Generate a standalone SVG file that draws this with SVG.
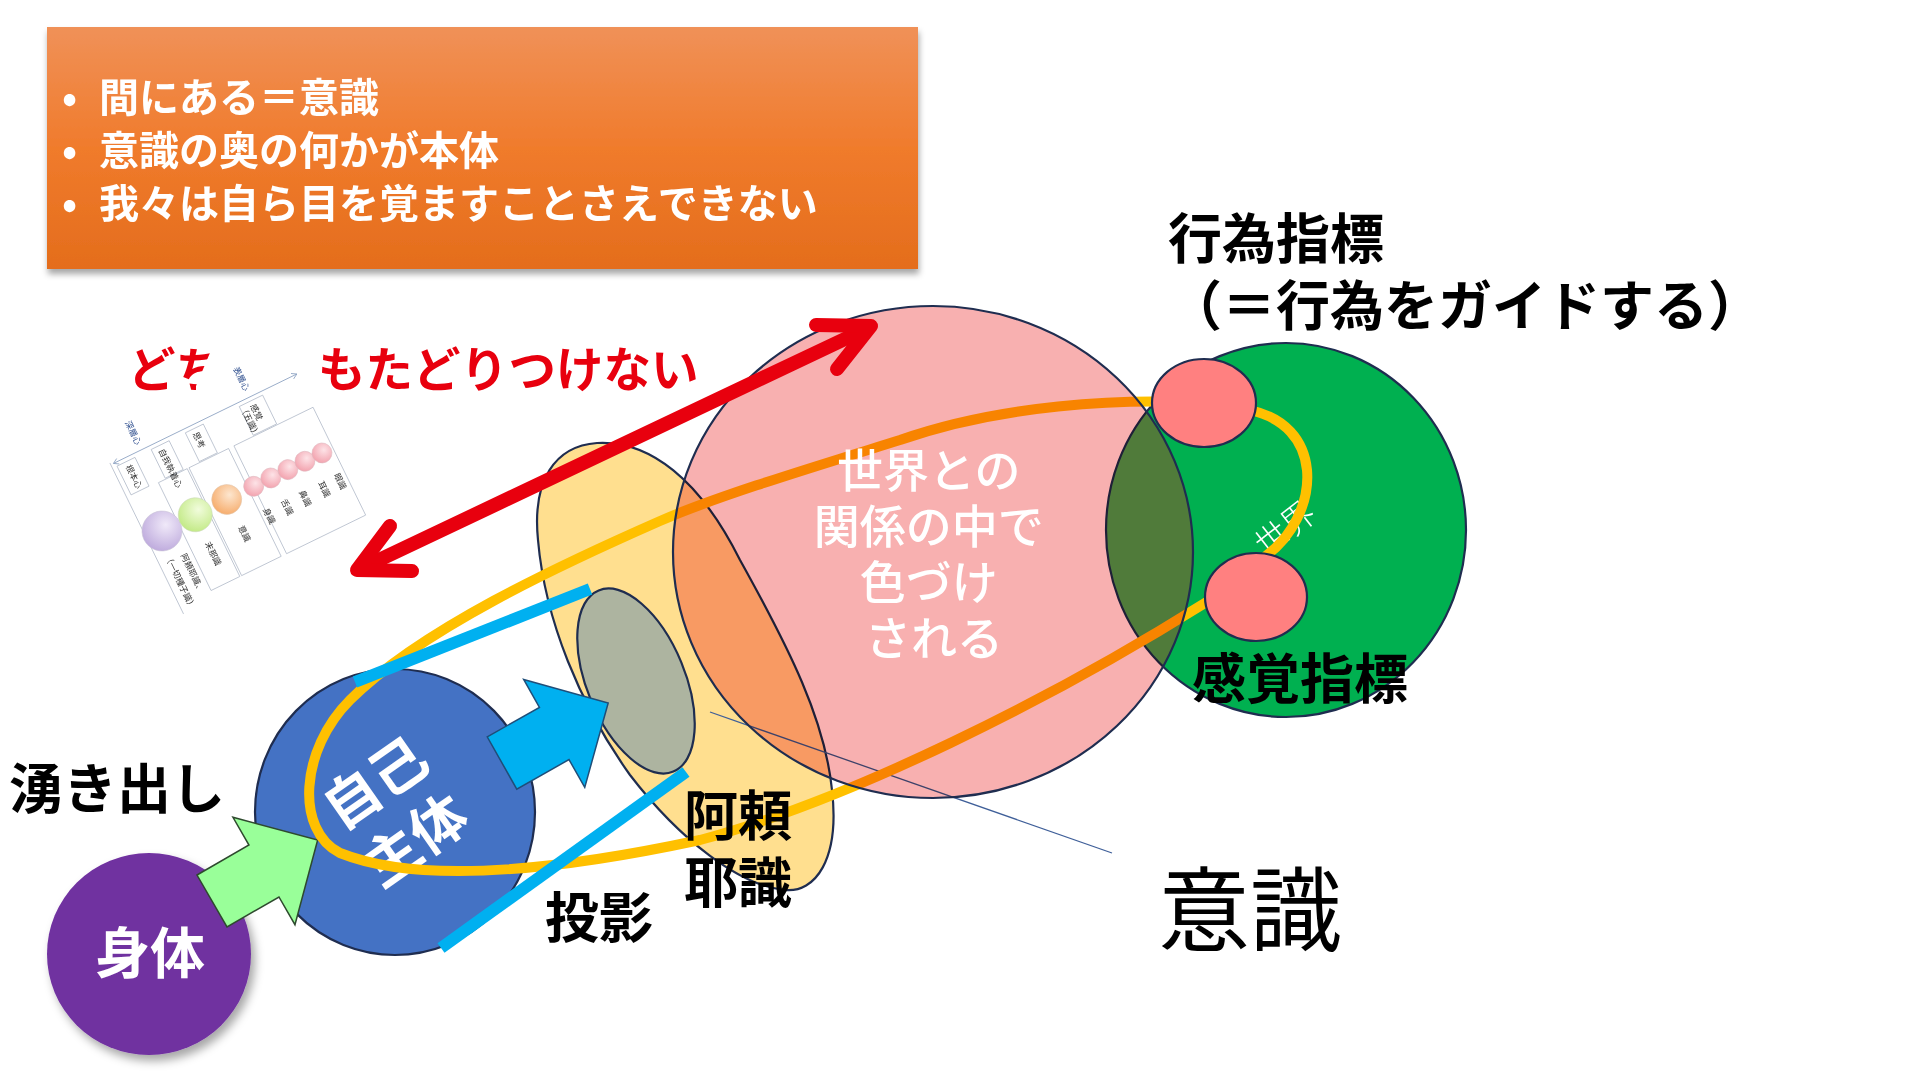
<svg xmlns="http://www.w3.org/2000/svg" width="1920" height="1080" viewBox="0 0 1920 1080">
<defs>
  <linearGradient id="boxGrad" x1="0" y1="0" x2="0" y2="1">
    <stop offset="0" stop-color="#F09158"/>
    <stop offset="0.5" stop-color="#F07B2C"/>
    <stop offset="1" stop-color="#E46D1C"/>
  </linearGradient>
  <radialGradient id="gPink" cx="0.4" cy="0.35" r="0.7">
    <stop offset="0" stop-color="#FDE3E7"/><stop offset="1" stop-color="#F2A0AC"/>
  </radialGradient>
  <radialGradient id="gOrange" cx="0.4" cy="0.35" r="0.7">
    <stop offset="0" stop-color="#FDE6CF"/><stop offset="1" stop-color="#F6AA68"/>
  </radialGradient>
  <radialGradient id="gGreen" cx="0.4" cy="0.35" r="0.7">
    <stop offset="0" stop-color="#F1FCDC"/><stop offset="1" stop-color="#C1E983"/>
  </radialGradient>
  <radialGradient id="gPurple" cx="0.4" cy="0.35" r="0.7">
    <stop offset="0" stop-color="#F0E9F9"/><stop offset="1" stop-color="#BDA9DC"/>
  </radialGradient>
  <filter id="boxShadow" x="-5%" y="-10%" width="110%" height="130%">
    <feDropShadow dx="1" dy="5" stdDeviation="3" flood-color="#000" flood-opacity="0.35"/>
  </filter>
  <filter id="softShadow" x="-20%" y="-20%" width="150%" height="150%">
    <feDropShadow dx="4" dy="6" stdDeviation="5" flood-color="#000" flood-opacity="0.35"/>
  </filter>
  <clipPath id="pinkClip"><ellipse cx="933" cy="552" rx="260" ry="246"/></clipPath>
  <path id="blockArrow" d="M0,-30 L60,-30 L60,-62 L122,0 L60,62 L60,30 L0,30 Z"/>
</defs>
<style>
  .jp { font-family: "Noto Sans CJK JP", "Noto Sans", sans-serif; }
  .bold { font-weight: 700; }
  .lbl { font-family: "Noto Sans CJK JP", "Noto Sans", sans-serif; font-weight: 700; font-size: 54px; fill: #000; }
  .boxtxt { font-family: "Noto Sans CJK JP", "Noto Sans", sans-serif; font-weight: 700; font-size: 40px; fill: #FFFFFF; }
  .outline { stroke: #1F2D50; stroke-width: 2.2; }
  .mini { font-family: "Noto Sans CJK JP", sans-serif; font-size: 8.5px; fill: #333; }
  .minibox { fill: none; stroke: #AEB7C6; stroke-width: 0.7; }
  .bluebar { stroke: #00B0F0; stroke-width: 12; fill: none; }
</style>
<rect width="1920" height="1080" fill="#FFFFFF"/>

<!-- orange note box -->
<g id="note">
  <rect x="47" y="27" width="871" height="242" fill="url(#boxGrad)" filter="url(#boxShadow)"/>
  <text class="boxtxt">
    <tspan x="62" y="112">•</tspan>
    <tspan x="99" y="112">間にある＝意識</tspan>
    <tspan x="62" y="165">•</tspan>
    <tspan x="99" y="165">意識の奥の何かが本体</tspan>
    <tspan x="62" y="218">•</tspan>
    <tspan x="99" y="218">我々は自ら目を覚ますことさえできない</tspan>
  </text>
</g>

<!-- red caption -->
<g id="caption">
  <text class="jp bold" x="128" y="387" font-size="47.5" fill="#E8000E">どちらにもたどりつけない</text>
</g>

<!-- pasted mini diagram (layered mind) -->
<g id="mini-diagram">
  <polygon points="196,400 196,386 212,348 318,348 318,400" fill="#FFFFFF"/>
  <g transform="translate(162,531) rotate(64)">
    <line x1="-82" y1="14" x2="-82" y2="-190" stroke="#8EA3C2" stroke-width="0.8"/>
    <polyline points="-85,-185 -82,-190 -79,-185" fill="none" stroke="#8EA3C2" stroke-width="0.8"/>
    <polyline points="-85,9 -82,14 -79,9" fill="none" stroke="#8EA3C2" stroke-width="0.8"/>
    <text class="mini" x="-101" y="-14" text-anchor="middle" style="fill:#2E4E8E">深層心</text>
    <text class="mini" x="-102" y="-135" text-anchor="middle" style="fill:#2E4E8E">表層心</text>
    <line class="minibox" x1="-84" y1="17" x2="84" y2="17"/>
    <rect class="minibox" x="-45" y="-190" width="120" height="88"/>
    <rect class="minibox" x="-45" y="-96" width="120" height="44"/>
    <rect class="minibox" x="-45" y="-50" width="120" height="32"/>
    <rect class="minibox" x="-78" y="-150" width="32" height="26"/>
    <rect class="minibox" x="-78" y="-84" width="32" height="20"/>
    <rect class="minibox" x="-78" y="-46" width="32" height="20"/>
    <rect class="minibox" x="-78" y="-8" width="32" height="20"/>
    <text class="mini" x="-74" y="4.5">根本心</text>
    <text class="mini" x="-74" y="-32">自我執着心</text>
    <text class="mini" x="-74" y="-70">思考</text>
    <text class="mini"><tspan x="-74" y="-134">感覚</tspan><tspan x="-77" y="-124">（五識）</tspan></text>
    <circle cx="0" cy="0" r="20" fill="url(#gPurple)" stroke="#C9C3D6" stroke-width="0.5"/>
    <circle cx="0" cy="-37" r="17" fill="url(#gGreen)" stroke="#CAD8B8" stroke-width="0.5"/>
    <circle cx="0" cy="-72" r="15" fill="url(#gOrange)" stroke="#E0C8B0" stroke-width="0.5"/>
    <circle cx="0" cy="-102" r="10" fill="url(#gPink)" stroke="#DDB8BE" stroke-width="0.5"/>
    <circle cx="0" cy="-121" r="10" fill="url(#gPink)" stroke="#DDB8BE" stroke-width="0.5"/>
    <circle cx="0" cy="-140" r="10" fill="url(#gPink)" stroke="#DDB8BE" stroke-width="0.5"/>
    <circle cx="0" cy="-159" r="10" fill="url(#gPink)" stroke="#DDB8BE" stroke-width="0.5"/>
    <circle cx="0" cy="-178" r="10" fill="url(#gPink)" stroke="#DDB8BE" stroke-width="0.5"/>
    <text class="mini" x="25" y="-179">眼識</text>
    <text class="mini" x="25" y="-161">耳識</text>
    <text class="mini" x="25" y="-140">鼻識</text>
    <text class="mini" x="25" y="-120">舌識</text>
    <text class="mini" x="25" y="-100">身識</text>
    <text class="mini" x="30" y="-70">意識</text>
    <text class="mini" x="30" y="-33">末那識</text>
    <text class="mini"><tspan x="30" y="-6">阿頼耶識、</tspan><tspan x="24" y="9">（一切種子識）</tspan></text>
  </g>
</g>

<!-- 阿頼耶識 shape -->
<g id="alaya">
  <path class="outline" fill="#FFDF8F" d="M597,443 C650,440 700,480 740,560 C790,650 825,720 832,790 C840,860 815,893 785,890 C740,886 680,840 630,775 C580,705 545,620 538,540 C532,480 555,446 597,443 Z"/>
</g>
<g id="screen">
  <ellipse class="outline" cx="636" cy="681" rx="98" ry="49" transform="rotate(67.6 636 681)" fill="#ADB4A0"/>
</g>

<!-- world (green) -->
<g id="world">
  <ellipse cx="1286" cy="530" rx="180" ry="187" fill="#00B050"/>
  <ellipse cx="1286" cy="530" rx="180" ry="187" fill="#52B254" clip-path="url(#pinkClip)"/>
  <ellipse cx="1286" cy="530" rx="180" ry="187" fill="none" class="outline"/>
  <text class="jp" transform="translate(1284,527) rotate(-38)" text-anchor="middle" dominant-baseline="central" font-size="33" font-weight="300" fill="#FFFFFF">世界</text>
</g>

<!-- self (blue) -->
<g id="self">
  <ellipse class="outline" cx="395" cy="812" rx="140" ry="143" fill="#4472C4"/>
  <text class="jp bold" transform="translate(395,811) rotate(-35)" text-anchor="middle" font-size="56" fill="#FFFFFF"><tspan x="0" y="-14">自己</tspan><tspan x="0" y="56">主体</tspan></text>
</g>

<!-- body (purple) -->
<g id="body">
  <ellipse cx="149" cy="954" rx="102" ry="101" fill="#7030A0" filter="url(#softShadow)"/>
  <text class="jp bold" x="150" y="973" text-anchor="middle" font-size="55" fill="#FFFFFF">身体</text>
</g>

<!-- connectors -->
<g id="connectors">
  <use href="#blockArrow" transform="translate(212,901) rotate(-30)" fill="#99FF99" stroke="#2E4A2E" stroke-width="1.5"/>
  <line x1="710" y1="712" x2="1112" y2="853" stroke="#3F5F99" stroke-width="1.3"/>
  <path fill="none" stroke="#FFC000" stroke-width="10" stroke-linejoin="round" d="M1205,403 C1120,398 1000,405 900,440 C820,465 720,495 660,521 C560,565 420,630 350,700 C300,750 295,830 340,853 C420,885 560,870 700,840 C850,800 1050,700 1205,603 C1230,588 1250,572 1267,555 C1290,538 1310,505 1307,470 C1304,440 1285,418 1250,410 L1205,403"/>
</g>

<!-- relation with world (pink, multiply) -->
<g id="relation">
  <ellipse cx="933" cy="552" rx="260" ry="246" fill="#F8B0B0" style="mix-blend-mode:multiply"/>
  <ellipse cx="933" cy="552" rx="260" ry="246" fill="none" class="outline"/>
  <text class="jp" font-size="46" font-weight="500" fill="#FFFFFF" text-anchor="middle">
    <tspan x="934" y="487">世界との</tspan>
    <tspan x="934" y="543">関係の中で</tspan>
    <tspan x="934" y="599">色づけ</tspan>
    <tspan x="934" y="655">される</tspan>
  </text>
</g>

<!-- indicators -->
<g id="action-indicator">
  <ellipse class="outline" cx="1204" cy="403" rx="52" ry="44" fill="#FF8080"/>
</g>
<g id="sense-indicator">
  <ellipse class="outline" cx="1256" cy="597" rx="51" ry="44" fill="#FF8080"/>
</g>

<g id="connectors-top">
  <use href="#blockArrow" transform="translate(502,763) rotate(-29.5)" fill="#00B0F0" stroke="#1F4E79" stroke-width="1.5"/>
  <line class="bluebar" x1="355" y1="682" x2="590" y2="589"/>
  <line class="bluebar" x1="441" y1="948" x2="686" y2="772"/>
  <g fill="none" stroke="#E8000E" stroke-width="14" stroke-linecap="round" stroke-linejoin="round">
    <line x1="362" y1="568" x2="866" y2="329"/>
    <polyline points="390,526 357,570 412,571"/>
    <polyline points="816,325 871,326 837,369"/>
  </g>
</g>

<!-- labels -->
<g id="labels">
  <text class="lbl" x="9" y="809">湧き出し</text>
  <text class="lbl" x="545" y="938">投影</text>
  <text class="lbl"><tspan x="684" y="836">阿頼</tspan><tspan x="684" y="903">耶識</tspan></text>
  <text class="lbl" x="1192" y="699" font-size="55">感覚指標</text>
  <text class="lbl" font-size="55"><tspan x="1168" y="259">行為指標</tspan><tspan x="1168" y="326">（＝行為をガイドする）</tspan></text>
  <text class="jp" x="1158" y="944" font-size="92" fill="#000">意識</text>
</g>
</svg>
